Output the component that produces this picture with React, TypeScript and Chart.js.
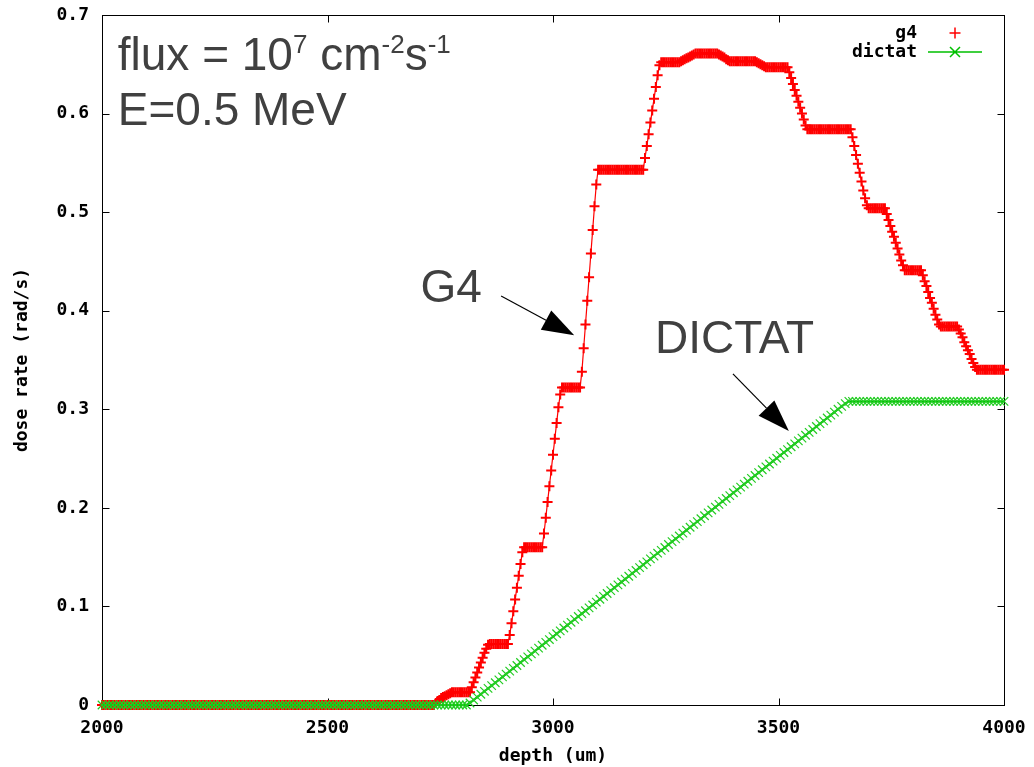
import { useEffect, useRef } from "react";
import { Chart, registerables } from "chart.js";

Chart.register(...registerables);

// ---------- data ----------
const SERIES_NAMES = ["g4", "dictat"];
const X_TITLE = "depth (um)";
const Y_TITLE = "dose rate (rad/s)";
const X_TICKS = [2000, 2500, 3000, 3500, 4000];
const Y_TICKS = [0, 0.1, 0.2, 0.3, 0.4, 0.5, 0.6, 0.7];

// G4: depth (um), every 4 um
const G4_DEPTH = [
  2000,2004,2008,2012,2016,2020,2024,2028,2032,2036,2040,2044,2048,2052,2056,2060,2064,2068,2072,2076,2080,2084,2088,2092,2096,
  2100,2104,2108,2112,2116,2120,2124,2128,2132,2136,2140,2144,2148,2152,2156,2160,2164,2168,2172,2176,2180,2184,2188,2192,2196,
  2200,2204,2208,2212,2216,2220,2224,2228,2232,2236,2240,2244,2248,2252,2256,2260,2264,2268,2272,2276,2280,2284,2288,2292,2296,
  2300,2304,2308,2312,2316,2320,2324,2328,2332,2336,2340,2344,2348,2352,2356,2360,2364,2368,2372,2376,2380,2384,2388,2392,2396,
  2400,2404,2408,2412,2416,2420,2424,2428,2432,2436,2440,2444,2448,2452,2456,2460,2464,2468,2472,2476,2480,2484,2488,2492,2496,
  2500,2504,2508,2512,2516,2520,2524,2528,2532,2536,2540,2544,2548,2552,2556,2560,2564,2568,2572,2576,2580,2584,2588,2592,2596,
  2600,2604,2608,2612,2616,2620,2624,2628,2632,2636,2640,2644,2648,2652,2656,2660,2664,2668,2672,2676,2680,2684,2688,2692,2696,
  2700,2704,2708,2712,2716,2720,2724,2728,2732,2736,2740,2744,2748,2752,2756,2760,2764,2768,2772,2776,2780,2784,2788,2792,2796,
  2800,2804,2808,2812,2816,2820,2824,2828,2832,2836,2840,2844,2848,2852,2856,2860,2864,2868,2872,2876,2880,2884,2888,2892,2896,
  2900,2904,2908,2912,2916,2920,2924,2928,2932,2936,2940,2944,2948,2952,2956,2960,2964,2968,2972,2976,2980,2984,2988,2992,2996,
  3000,3004,3008,3012,3016,3020,3024,3028,3032,3036,3040,3044,3048,3052,3056,3060,3064,3068,3072,3076,3080,3084,3088,3092,3096,
  3100,3104,3108,3112,3116,3120,3124,3128,3132,3136,3140,3144,3148,3152,3156,3160,3164,3168,3172,3176,3180,3184,3188,3192,3196,
  3200,3204,3208,3212,3216,3220,3224,3228,3232,3236,3240,3244,3248,3252,3256,3260,3264,3268,3272,3276,3280,3284,3288,3292,3296,
  3300,3304,3308,3312,3316,3320,3324,3328,3332,3336,3340,3344,3348,3352,3356,3360,3364,3368,3372,3376,3380,3384,3388,3392,3396,
  3400,3404,3408,3412,3416,3420,3424,3428,3432,3436,3440,3444,3448,3452,3456,3460,3464,3468,3472,3476,3480,3484,3488,3492,3496,
  3500,3504,3508,3512,3516,3520,3524,3528,3532,3536,3540,3544,3548,3552,3556,3560,3564,3568,3572,3576,3580,3584,3588,3592,3596,
  3600,3604,3608,3612,3616,3620,3624,3628,3632,3636,3640,3644,3648,3652,3656,3660,3664,3668,3672,3676,3680,3684,3688,3692,3696,
  3700,3704,3708,3712,3716,3720,3724,3728,3732,3736,3740,3744,3748,3752,3756,3760,3764,3768,3772,3776,3780,3784,3788,3792,3796,
  3800,3804,3808,3812,3816,3820,3824,3828,3832,3836,3840,3844,3848,3852,3856,3860,3864,3868,3872,3876,3880,3884,3888,3892,3896,
  3900,3904,3908,3912,3916,3920,3924,3928,3932,3936,3940,3944,3948,3952,3956,3960,3964,3968,3972,3976,3980,3984,3988,3992,3996,
  4000,
];

// G4: dose rate (rad/s)
const G4_DOSE = [
  0,0,0,0,0,0,0,0,0,0,0,0,0,0,0,0,0,0,0,0,0,0,0,0,0,
  0,0,0,0,0,0,0,0,0,0,0,0,0,0,0,0,0,0,0,0,0,0,0,0,0,
  0,0,0,0,0,0,0,0,0,0,0,0,0,0,0,0,0,0,0,0,0,0,0,0,0,
  0,0,0,0,0,0,0,0,0,0,0,0,0,0,0,0,0,0,0,0,0,0,0,0,0,
  0,0,0,0,0,0,0,0,0,0,0,0,0,0,0,0,0,0,0,0,0,0,0,0,0,
  0,0,0,0,0,0,0,0,0,0,0,0,0,0,0,0,0,0,0,0,0,0,0,0,0,
  0,0,0,0,0,0,0,0,0,0,0,0,0,0,0,0,0,0,0,0,0,0,0,0,0,
  0,0,0,0,0,0,0,0,0,0,0.002,0.004,0.005,0.007,0.008,0.009,0.01,0.011,0.012,0.013,0.013,0.013,0.013,0.013,0.013,
  0.013,0.013,0.013,0.013,0.013,0.018,0.023,0.028,0.033,0.038,0.043,0.048,0.053,0.057,0.061,0.062,0.062,0.062,0.062,0.062,0.062,0.062,0.062,0.062,0.062,
  0.062,0.071,0.083,0.095,0.107,0.119,0.131,0.143,0.155,0.16,0.16,0.16,0.16,0.16,0.16,0.16,0.16,0.16,0.16,0.16,0.174,0.19,0.206,0.222,0.238,
  0.254,0.27,0.286,0.302,0.315,0.322,0.322,0.322,0.322,0.322,0.322,0.322,0.322,0.322,0.322,0.322,0.338,0.362,0.386,0.41,0.434,0.458,0.482,0.506,0.528,
  0.543,0.543,0.543,0.543,0.543,0.543,0.543,0.543,0.543,0.543,0.543,0.543,0.543,0.543,0.543,0.543,0.543,0.543,0.543,0.543,0.543,0.543,0.543,0.543,0.543,
  0.543,0.555,0.567,0.579,0.591,0.603,0.615,0.627,0.639,0.649,0.652,0.652,0.652,0.652,0.652,0.652,0.652,0.652,0.652,0.652,0.652,0.653,0.654,0.655,0.656,
  0.657,0.658,0.659,0.66,0.661,0.661,0.661,0.661,0.661,0.661,0.661,0.661,0.661,0.661,0.661,0.661,0.661,0.66,0.659,0.658,0.657,0.655,0.654,0.653,0.653,
  0.653,0.653,0.653,0.653,0.653,0.653,0.653,0.653,0.653,0.653,0.653,0.653,0.653,0.652,0.651,0.65,0.649,0.648,0.647,0.647,0.647,0.647,0.647,0.647,0.647,
  0.647,0.647,0.647,0.647,0.647,0.647,0.642,0.636,0.63,0.624,0.618,0.612,0.606,0.6,0.594,0.588,0.584,0.584,0.584,0.584,0.584,0.584,0.584,0.584,0.584,
  0.584,0.584,0.584,0.584,0.584,0.584,0.584,0.584,0.584,0.584,0.584,0.584,0.584,0.584,0.584,0.584,0.576,0.567,0.558,0.549,0.54,0.531,0.522,0.514,0.507,
  0.504,0.504,0.504,0.504,0.504,0.504,0.504,0.504,0.504,0.504,0.498,0.492,0.486,0.48,0.475,0.469,0.463,0.457,0.451,0.446,0.441,0.441,0.441,0.441,0.441,
  0.441,0.441,0.441,0.441,0.441,0.436,0.43,0.425,0.419,0.413,0.408,0.402,0.396,0.391,0.386,0.384,0.384,0.384,0.384,0.384,0.384,0.384,0.384,0.384,0.384,
  0.381,0.377,0.373,0.368,0.364,0.36,0.356,0.351,0.347,0.343,0.34,0.34,0.34,0.34,0.34,0.34,0.34,0.34,0.34,0.34,0.34,0.34,0.34,0.34,0.34,
  0.34,
];

// DICTAT: depth (um), every 8 um
const DICTAT_DEPTH = [
  2000,2008,2016,2024,2032,2040,2048,2056,2064,2072,2080,2088,2096,2104,2112,2120,2128,2136,2144,2152,2160,2168,2176,2184,2192,
  2200,2208,2216,2224,2232,2240,2248,2256,2264,2272,2280,2288,2296,2304,2312,2320,2328,2336,2344,2352,2360,2368,2376,2384,2392,
  2400,2408,2416,2424,2432,2440,2448,2456,2464,2472,2480,2488,2496,2504,2512,2520,2528,2536,2544,2552,2560,2568,2576,2584,2592,
  2600,2608,2616,2624,2632,2640,2648,2656,2664,2672,2680,2688,2696,2704,2712,2720,2728,2736,2744,2752,2760,2768,2776,2784,2792,
  2800,2808,2816,2824,2832,2840,2848,2856,2864,2872,2880,2888,2896,2904,2912,2920,2928,2936,2944,2952,2960,2968,2976,2984,2992,
  3000,3008,3016,3024,3032,3040,3048,3056,3064,3072,3080,3088,3096,3104,3112,3120,3128,3136,3144,3152,3160,3168,3176,3184,3192,
  3200,3208,3216,3224,3232,3240,3248,3256,3264,3272,3280,3288,3296,3304,3312,3320,3328,3336,3344,3352,3360,3368,3376,3384,3392,
  3400,3408,3416,3424,3432,3440,3448,3456,3464,3472,3480,3488,3496,3504,3512,3520,3528,3536,3544,3552,3560,3568,3576,3584,3592,
  3600,3608,3616,3624,3632,3640,3648,3656,3664,3672,3680,3688,3696,3704,3712,3720,3728,3736,3744,3752,3760,3768,3776,3784,3792,
  3800,3808,3816,3824,3832,3840,3848,3856,3864,3872,3880,3888,3896,3904,3912,3920,3928,3936,3944,3952,3960,3968,3976,3984,3992,
  4000,
];

// DICTAT: dose rate (rad/s)
const DICTAT_DOSE = [
  0,0,0,0,0,0,0,0,0,0,0,0,0,0,0,0,0,0,0,0,0,0,0,0,0,
  0,0,0,0,0,0,0,0,0,0,0,0,0,0,0,0,0,0,0,0,0,0,0,0,0,
  0,0,0,0,0,0,0,0,0,0,0,0,0,0,0,0,0,0,0,0,0,0,0,0,0,
  0,0,0,0,0,0,0,0,0,0,0,0,0,0,0,0,0,0,0,0,0,0,0,0,0,
  0,0,0.002,0.0051,0.008,0.0109,0.0139,0.0168,0.0197,0.0226,0.0255,0.0285,0.0314,0.0343,0.0372,0.0401,0.0431,0.046,0.0489,0.0518,0.0547,0.0577,0.0606,0.0635,0.0664,
  0.0693,0.0723,0.0752,0.0781,0.081,0.0839,0.0869,0.0898,0.0927,0.0956,0.0985,0.1015,0.1044,0.1073,0.1102,0.1131,0.116,0.119,0.1219,0.1248,0.1277,0.1306,0.1336,0.1365,0.1394,
  0.1423,0.1452,0.1482,0.1511,0.154,0.1569,0.1598,0.1628,0.1657,0.1686,0.1715,0.1744,0.1774,0.1803,0.1832,0.1861,0.189,0.192,0.1949,0.1978,0.2007,0.2036,0.2066,0.2095,0.2124,
  0.2153,0.2182,0.2211,0.2241,0.227,0.2299,0.2328,0.2357,0.2387,0.2416,0.2445,0.2474,0.2503,0.2533,0.2562,0.2591,0.262,0.2649,0.2679,0.2708,0.2737,0.2766,0.2795,0.2825,0.2854,
  0.2883,0.2912,0.2941,0.2971,0.3,0.3029,0.3058,0.308,0.308,0.308,0.308,0.308,0.308,0.308,0.308,0.308,0.308,0.308,0.308,0.308,0.308,0.308,0.308,0.308,0.308,
  0.308,0.308,0.308,0.308,0.308,0.308,0.308,0.308,0.308,0.308,0.308,0.308,0.308,0.308,0.308,0.308,0.308,0.308,0.308,0.308,0.308,0.308,0.308,0.308,0.308,
  0.308,
];

// annotations (text + anchor in data coordinates)
const FLUX_PARTS: [string, boolean][] = [["flux = 10", false], ["7", true], [" cm", false], ["-2", true], ["s", false], ["-1", true]];
const FLUX_AT = { x: 2035, y: 0.644 };
const ENERGY_TEXT = "E=0.5 MeV";
const ENERGY_AT = { x: 2035, y: 0.588 };
const G4_LABEL = "G4";
const G4_LABEL_AT = { x: 2706, y: 0.409 };
const G4_ARROW = { x0: 2885, y0: 0.415, x1: 3047, y1: 0.375 };
const DICTAT_LABEL = "DICTAT";
const DICTAT_LABEL_AT = { x: 3226, y: 0.357 };
const DICTAT_ARROW = { x0: 3399, y0: 0.336, x1: 3523, y1: 0.278 };

const RED = "#ff0000";
const GREEN = "#00c000";
const GREEN_MARK = "#22cc22";
const NOTE_COLOR = "#404040";
const MONO = "'DejaVu Sans Mono', monospace";
const SANS = "'Liberation Sans', Arial, sans-serif";

function drawArrow(ctx: CanvasRenderingContext2D, x0: number, y0: number, x1: number, y1: number) {
  const ang = Math.atan2(y1 - y0, x1 - x0);
  const len = 32, hw = 11;
  const bx = x1 - Math.cos(ang) * len;
  const by = y1 - Math.sin(ang) * len;
  ctx.strokeStyle = "#000";
  ctx.fillStyle = "#000";
  ctx.lineWidth = 1.2;
  ctx.beginPath();
  ctx.moveTo(x0, y0);
  ctx.lineTo(bx, by);
  ctx.stroke();
  ctx.beginPath();
  ctx.moveTo(x1, y1);
  ctx.lineTo(bx - Math.sin(ang) * hw, by + Math.cos(ang) * hw);
  ctx.lineTo(bx + Math.sin(ang) * hw, by - Math.cos(ang) * hw);
  ctx.closePath();
  ctx.fill();
}

const framePlugin = {
  id: "frame",
  beforeDatasetsDraw(chart: any) {
    const { ctx, chartArea, scales } = chart;
    const l = Math.round(chartArea.left) + 0.5;
    const r = Math.round(chartArea.right) + 0.5;
    const t = Math.round(chartArea.top) + 0.5;
    const b = Math.round(chartArea.bottom) + 0.5;
    ctx.save();
    ctx.strokeStyle = "#000";
    ctx.lineWidth = 1;
    ctx.strokeRect(l, t, r - l, b - t);
    ctx.beginPath();
    for (const v of X_TICKS) {
      const px = Math.round(scales.x.getPixelForValue(v)) + 0.5;
      ctx.moveTo(px, b); ctx.lineTo(px, b - 7);
      ctx.moveTo(px, t); ctx.lineTo(px, t + 7);
    }
    for (const v of Y_TICKS) {
      const py = Math.round(scales.y.getPixelForValue(v)) + 0.5;
      ctx.moveTo(l, py); ctx.lineTo(l + 7, py);
      ctx.moveTo(r, py); ctx.lineTo(r - 7, py);
    }
    ctx.stroke();
    ctx.restore();
  },
};

const notesPlugin = {
  id: "notes",
  afterDraw(chart: any) {
    const { ctx, chartArea, scales } = chart;
    const X = (v: number) => scales.x.getPixelForValue(v);
    const Y = (v: number) => scales.y.getPixelForValue(v);
    ctx.save();

    // legend (top right, inside the frame)
    const lx = chartArea.right - 87;
    const rows = [chartArea.top + 18, chartArea.top + 37];
    ctx.font = `bold 18px ${MONO}`;
    ctx.fillStyle = "#000";
    ctx.textAlign = "right";
    ctx.textBaseline = "middle";
    ctx.fillText(SERIES_NAMES[0], lx, rows[0]);
    ctx.fillText(SERIES_NAMES[1], lx, rows[1]);
    const mx = chartArea.right - 49;
    ctx.lineWidth = 1.5;
    ctx.strokeStyle = RED;
    ctx.beginPath();
    ctx.moveTo(mx - 5.5, rows[0]); ctx.lineTo(mx + 5.5, rows[0]);
    ctx.moveTo(mx, rows[0] - 5.5); ctx.lineTo(mx, rows[0] + 5.5);
    ctx.stroke();
    ctx.strokeStyle = GREEN;
    ctx.beginPath();
    ctx.moveTo(chartArea.right - 76, rows[1]); ctx.lineTo(chartArea.right - 22, rows[1]);
    ctx.moveTo(mx - 5, rows[1] - 5); ctx.lineTo(mx + 5, rows[1] + 5);
    ctx.moveTo(mx - 5, rows[1] + 5); ctx.lineTo(mx + 5, rows[1] - 5);
    ctx.stroke();

    // text notes
    ctx.fillStyle = NOTE_COLOR;
    ctx.textAlign = "left";
    ctx.textBaseline = "alphabetic";
    let cx = X(FLUX_AT.x);
    const fy = Y(FLUX_AT.y);
    for (const [txt, sup] of FLUX_PARTS) {
      ctx.font = sup ? `26px ${SANS}` : `46px ${SANS}`;
      ctx.fillText(txt, cx, sup ? fy - 17 : fy);
      cx += ctx.measureText(txt).width;
    }
    ctx.font = `46px ${SANS}`;
    ctx.fillText(ENERGY_TEXT, X(ENERGY_AT.x), Y(ENERGY_AT.y));
    ctx.fillText(G4_LABEL, X(G4_LABEL_AT.x), Y(G4_LABEL_AT.y));
    ctx.fillText(DICTAT_LABEL, X(DICTAT_LABEL_AT.x), Y(DICTAT_LABEL_AT.y));

    drawArrow(ctx, X(G4_ARROW.x0), Y(G4_ARROW.y0), X(G4_ARROW.x1), Y(G4_ARROW.y1));
    drawArrow(ctx, X(DICTAT_ARROW.x0), Y(DICTAT_ARROW.y0), X(DICTAT_ARROW.x1), Y(DICTAT_ARROW.y1));
    ctx.restore();
  },
};

export default function App() {
  const canvasRef = useRef<HTMLCanvasElement | null>(null);

  useEffect(() => {
    const canvas = canvasRef.current;
    if (!canvas) return;
    const tickFont = { family: MONO, size: 18, weight: "bold" as const };
    const chart = new Chart(canvas, {
      type: "line",
      data: {
        datasets: [
          {
            label: SERIES_NAMES[0],
            data: G4_DEPTH.map((d, i) => ({ x: d, y: G4_DOSE[i] })),
            borderColor: RED,
            backgroundColor: RED,
            borderWidth: 1.2,
            pointStyle: "cross",
            pointRadius: 5,
            pointBorderWidth: 2,
            pointBorderColor: RED,
            fill: false,
            clip: false as any,
            order: 1,
          },
          {
            label: SERIES_NAMES[1],
            data: DICTAT_DEPTH.map((d, i) => ({ x: d, y: DICTAT_DOSE[i] })),
            borderColor: GREEN,
            backgroundColor: GREEN,
            borderWidth: 2,
            pointStyle: "crossRot",
            pointRadius: 6,
            pointBorderWidth: 1.2,
            pointBorderColor: GREEN_MARK,
            fill: false,
            clip: false as any,
            order: 0,
          },
        ],
      },
      options: {
        responsive: false,
        animation: false,
        devicePixelRatio: 1,
        events: [],
        layout: { padding: { left: 0, top: 15, right: 30, bottom: 0 } },
        plugins: { legend: { display: false }, tooltip: { enabled: false } },
        scales: {
          x: {
            type: "linear",
            min: 2000,
            max: 4000,
            grid: { display: false, drawTicks: false },
            border: { display: false },
            afterBuildTicks: (s: any) => { s.ticks = X_TICKS.map((v) => ({ value: v })); },
            afterFit: (s: any) => { s.height = 62; s.paddingLeft = 0; s.paddingRight = 0; },
            ticks: {
              autoSkip: false,
              maxRotation: 0,
              padding: 13,
              color: "#000",
              font: tickFont,
              callback: (v: any) => String(v),
            },
            title: {
              display: true,
              text: X_TITLE,
              color: "#000",
              font: tickFont,
              padding: { top: 0, bottom: 0 },
            },
          },
          y: {
            type: "linear",
            min: 0,
            max: 0.7,
            grid: { display: false, drawTicks: false },
            border: { display: false },
            afterBuildTicks: (s: any) => { s.ticks = Y_TICKS.map((v) => ({ value: v })); },
            afterFit: (s: any) => { s.width = 102; s.paddingTop = 0; s.paddingBottom = 0; },
            ticks: {
              autoSkip: false,
              padding: 13,
              color: "#000",
              font: tickFont,
              callback: (v: any) => (Number(v) === 0 ? "0" : Number(v).toFixed(1)),
            },
            title: {
              display: true,
              text: Y_TITLE,
              color: "#000",
              font: tickFont,
              padding: { top: 12, bottom: 0 },
            },
          },
        },
      },
      plugins: [framePlugin, notesPlugin],
    });
    return () => chart.destroy();
  }, []);

  return (
    <div style={{ position: "fixed", left: 0, top: 0, width: 1034, height: 767, background: "#fff" }}>
      <canvas ref={canvasRef} width={1034} height={767} style={{ display: "block" }} />
    </div>
  );
}
